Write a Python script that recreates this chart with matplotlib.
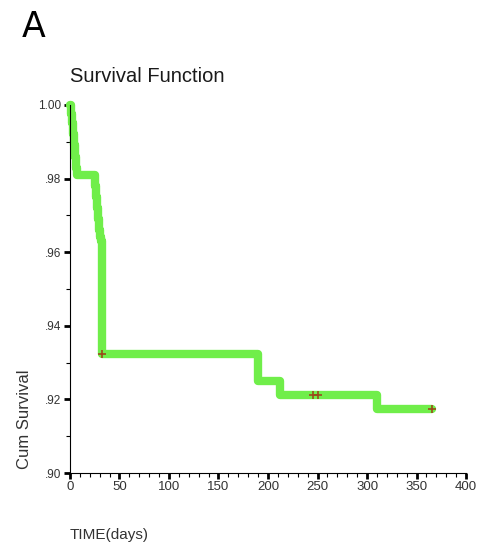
import matplotlib.pyplot as plt
from matplotlib.ticker import MultipleLocator, FuncFormatter

plt.rcParams['font.family'] = ['Liberation Sans', 'DejaVu Sans']

# Kaplan-Meier steps (time in days, cumulative survival after the step)
times = [0, 1, 2, 3, 4, 5, 6, 7, 25, 26, 27, 28, 29, 30, 31, 32, 190, 212, 310, 366]
surv = [1.000, 0.9975, 0.995, 0.992, 0.989, 0.986, 0.983, 0.981, 0.978, 0.975,
        0.972, 0.969, 0.966, 0.964, 0.963, 0.9323, 0.925, 0.9212, 0.9174, 0.9174]

# censored observations
cens_t = [32, 245, 250, 366]
cens_s = [0.9323, 0.9212, 0.9212, 0.9174]

fig = plt.figure(figsize=(4.79, 5.44), dpi=100)
ax = fig.add_axes([0.146, 0.1305, 0.827, 0.6765])

ax.step(times, surv, where='post', color='#70ee4a', lw=6,
        solid_joinstyle='round', solid_capstyle='round', clip_on=False, zorder=2)
ax.plot(cens_t, cens_s, '+', color='#9a4a1a', ms=6, mew=1.2, clip_on=False, zorder=3)

ax.set_xlim(0, 400)
ax.set_ylim(0.90, 1.00)
ax.xaxis.set_major_locator(MultipleLocator(50))
ax.xaxis.set_minor_locator(MultipleLocator(10))
ax.yaxis.set_major_locator(MultipleLocator(0.02))
ax.yaxis.set_minor_locator(MultipleLocator(0.01))
ax.yaxis.set_major_formatter(FuncFormatter(
    lambda v, p: '1.00' if v > 0.999 else ('%.2f' % v).lstrip('0')))

for s in ['top', 'right']:
    ax.spines[s].set_visible(False)
for s in ['left', 'bottom']:
    ax.spines[s].set_linewidth(0.8)

ax.tick_params(which='major', length=4, width=2, colors='black',
               labelcolor='#333333', pad=2)
ax.tick_params(axis='y', which='major', labelsize=8.5)
ax.tick_params(axis='x', which='major', labelsize=9.5)
ax.tick_params(which='minor', length=3, width=0.8)

fig.text(0.046, 0.950, 'A', fontsize=25, family=['DejaVu Sans'], va='center', ha='left')
fig.text(0.146, 0.860, 'Survival Function', fontsize=14.5, color='#1a1a1a',
         va='center', ha='left')
fig.text(0.052, 0.230, 'Cum Survival', fontsize=12, color='#333333', rotation=90,
         va='center', ha='center')
fig.text(0.146, 0.017, 'TIME(days)', fontsize=11, color='#333333',
         va='center', ha='left')

plt.savefig('out.png', dpi=100)
